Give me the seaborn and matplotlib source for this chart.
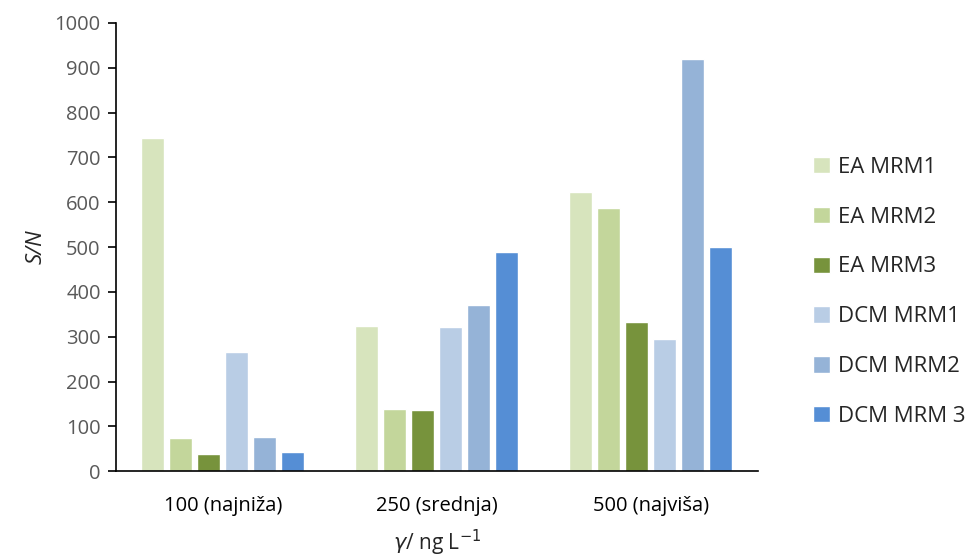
import matplotlib
matplotlib.use("Agg")
import matplotlib.pyplot as plt
import seaborn as sns
import pandas as pd

# podaci očitani s grafa
koncentracije = ['100 (najniža)', '250 (srednja)', '500 (najviša)']
serije = ['EA MRM1', 'EA MRM2', 'EA MRM3', 'DCM MRM1', 'DCM MRM2', 'DCM MRM 3']
ea_mrm1 = [743, 324, 622]
ea_mrm2 = [74, 139, 587]
ea_mrm3 = [38, 136, 333]
dcm_mrm1 = [266, 322, 295]
dcm_mrm2 = [76, 371, 919]
dcm_mrm3 = [42, 488, 501]
boje = ['#D7E4BD', '#C3D69B', '#77933C', '#B9CDE5', '#95B3D7', '#558ED5']

vrijednosti = [ea_mrm1, ea_mrm2, ea_mrm3, dcm_mrm1, dcm_mrm2, dcm_mrm3]
redovi = []
for naziv, niz in zip(serije, vrijednosti):
    for k, v in zip(koncentracije, niz):
        redovi.append({'konc': k, 'serija': naziv, 'SN': v})
df = pd.DataFrame(redovi)

sns.set_style('white')
plt.rcParams['font.family'] = ['Open Sans', 'DejaVu Sans']

fig = plt.figure(figsize=(9.74, 5.57), dpi=100)
ax = fig.add_axes([0.119, 0.154, 0.659, 0.805])

sns.barplot(data=df, x='konc', y='SN', hue='serija', hue_order=serije,
            order=koncentracije, palette=boje, width=0.785, gap=0.18,
            saturation=1, ax=ax)

ax.set_ylim(0, 1000)
ax.set_yticks(range(0, 1001, 100))
ax.set_xlim(-0.5, 2.5)
sns.despine(ax=ax)
ax.spines['left'].set_color('black')
ax.spines['bottom'].set_color('black')
ax.spines['left'].set_linewidth(1.2)
ax.spines['bottom'].set_linewidth(1.2)
ax.tick_params(axis='y', which='both', left=True, length=6, width=1.2,
               labelsize=14.5, labelcolor='#595959', color='black', pad=5)
ax.tick_params(axis='x', bottom=False, labelsize=14.5, labelcolor='black', pad=14)

ax.set_ylabel('S/N', fontsize=16, style='italic', labelpad=6)
ax.set_xlabel(r'$\gamma$/ ng L$^{-1}$', fontsize=15, labelpad=9)

ax.legend(loc='center left', bbox_to_anchor=(1.055, 0.40), frameon=False,
          fontsize=16, labelspacing=1.3, handlelength=0.75, handleheight=0.75,
          handletextpad=0.35)

fig.savefig('out.png', dpi=100)
